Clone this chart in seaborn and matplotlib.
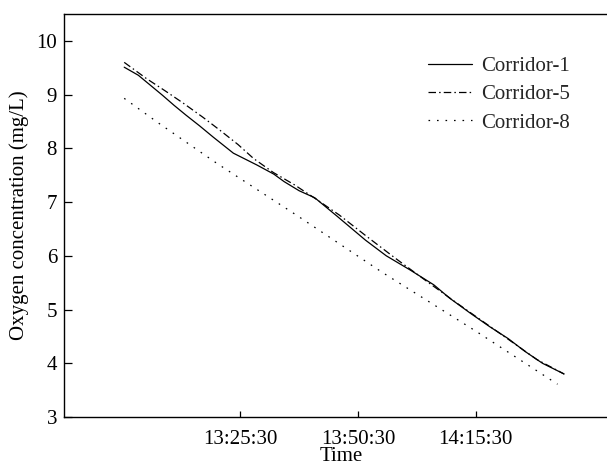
import matplotlib
matplotlib.use("Agg")
import matplotlib.pyplot as plt
import seaborn as sns
import pandas as pd

# ---- data ----
c1_times = ["13:00:48", "13:03:48", "13:08:54", "13:11:24", "13:13:54", "13:16:48",
            "13:19:42", "13:24:00", "13:29:00", "13:32:36", "13:34:48", "13:38:00",
            "13:41:18", "13:46:00", "13:52:06", "13:56:30", "14:01:30", "14:06:36",
            "14:10:00", "14:14:24", "14:18:30", "14:22:24", "14:26:00", "14:29:42",
            "14:34:18"]
c1_values = [9.51, 9.36, 8.99, 8.80, 8.62, 8.42, 8.21, 7.91, 7.69, 7.52, 7.38, 7.21,
             7.08, 6.74, 6.29, 6.00, 5.74, 5.46, 5.21, 4.93, 4.68, 4.46, 4.22, 4.00,
             3.80]

c5_times = ["13:00:48", "13:05:30", "13:09:30", "13:13:12", "13:17:30", "13:21:06",
            "13:25:00", "13:28:18", "13:32:30", "13:37:00", "13:41:30", "13:46:30",
            "13:52:30", "13:58:30", "14:05:30", "14:11:30", "14:17:30", "14:23:30",
            "14:28:30", "14:34:18"]
c5_values = [9.60, 9.30, 9.07, 8.85, 8.58, 8.34, 8.07, 7.81, 7.55, 7.32, 7.06, 6.76,
             6.35, 5.95, 5.50, 5.12, 4.75, 4.38, 4.07, 3.80]

c8_times = ["13:00:48", "13:08:06", "13:20:30", "13:37:42", "13:55:30", "14:15:30",
            "14:32:54"]
c8_values = [8.93, 8.47, 7.72, 6.74, 5.70, 4.60, 3.61]

series_names = ["Corridor-1", "Corridor-5", "Corridor-8"]
tick_labels = ["13:25:30", "13:50:30", "14:15:30"]
x_limits = ["12:48:00", "14:46:00"]
y_ticks = [3, 4, 5, 6, 7, 8, 9, 10]


def to_min(s):
    h, m, sec = (int(v) for v in s.split(":"))
    return h * 60 + m + sec / 60.0


frames = []
for name, ts, vs in zip(series_names, [c1_times, c5_times, c8_times],
                        [c1_values, c5_values, c8_values]):
    frames.append(pd.DataFrame({"t": [to_min(t) for t in ts], "v": vs, "series": name}))
df = pd.concat(frames, ignore_index=True)

sns.set_theme(style="white")
plt.rcParams["font.family"] = ["Liberation Serif", "DejaVu Serif"]
plt.rcParams["mathtext.fontset"] = "stix"

FS = 15
fig = plt.figure(figsize=(6.07, 4.66), dpi=100)
ax = fig.add_axes([64 / 607, (466 - 417) / 466, 1 - 64 / 607 + 0.02, (417 - 14) / 466])

styles = {
    "Corridor-1": "-",
    "Corridor-5": (0, (6, 2.5, 1.2, 2.5)),
    "Corridor-8": (0, (1.3, 5.5)),
}
for name in series_names:
    sub = df[df["series"] == name]
    sns.lineplot(data=sub, x="t", y="v", ax=ax, color="black", linewidth=0.9,
                 linestyle=styles[name], label=name, estimator=None, sort=False)

ax.set_xlim(to_min(x_limits[0]), to_min(x_limits[1]))
ax.set_ylim(3, 10.5)
ax.set_xticks([to_min(t) for t in tick_labels])
ax.set_xticklabels(tick_labels)
ax.set_yticks(y_ticks)
ax.set_yticklabels([str(v) for v in y_ticks])

for side in ["left", "bottom", "top"]:
    ax.spines[side].set_visible(True)
    ax.spines[side].set_color("black")
    ax.spines[side].set_linewidth(1.0)
ax.spines["right"].set_visible(False)

ax.tick_params(axis="both", direction="in", labelsize=FS, colors="black",
               top=False, right=False, left=True, bottom=True)
ax.tick_params(axis="y", length=6, width=0.9, pad=5)
ax.tick_params(axis="x", length=4, width=0.9, pad=9)

ax.set_xlabel("Time", fontsize=FS, color="black", labelpad=-1)
ax.set_ylabel("Oxygen concentration (mg/L)", fontsize=FS, color="black", labelpad=5)

leg = ax.legend(loc="upper left", bbox_to_anchor=(0.656, 0.895), frameon=False,
                fontsize=FS, handlelength=2.1, labelspacing=0.42, handletextpad=0.43,
                borderpad=0, borderaxespad=0)
for line in leg.get_lines():
    line.set_linewidth(0.9)

fig.savefig("out.png", dpi=100)
